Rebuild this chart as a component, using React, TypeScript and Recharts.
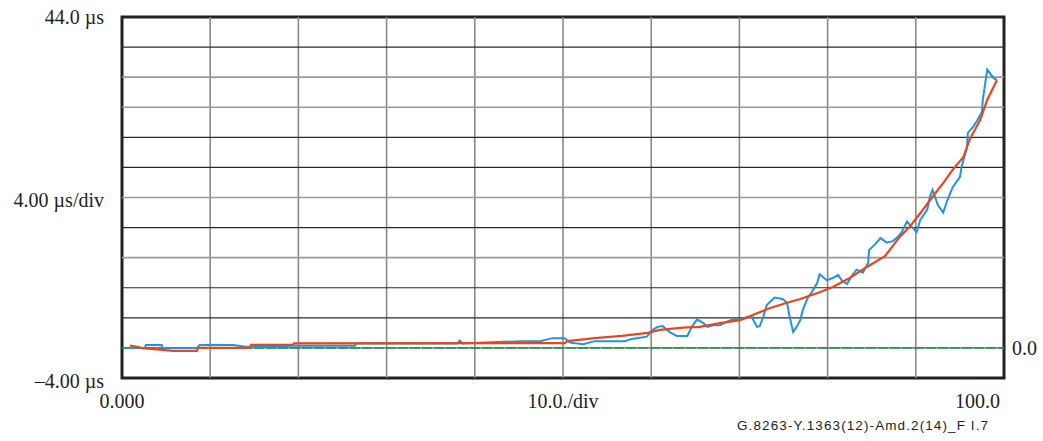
import { LineChart, Line, XAxis, YAxis, ReferenceLine, ReferenceArea } from "recharts";

// time axis (10 units per division) and offset axis (4 µs per division)
const xTicks = [0, 50, 100];
const xTickLabels = ["0.000", "10.0./div", "100.0"];
const yTicks = [-4, 20, 44];
const yTickLabels = ["\u20134.00 \u00b5s", "4.00 \u00b5s/div", "44.0 \u00b5s"];
const zeroLabel = "0.0";
const gridX = [10, 20, 30, 40, 50, 60, 70, 80, 90];
const gridY = [4, 8, 12, 16, 20, 24, 28, 32, 36, 40];
const gridYDark = [true, true, false, true, false, true, true, false, false, true];

// measured (noisy) trace
const measuredX = [
  0.9, 2.6, 2.7, 3.5, 4.5, 4.6, 5.8, 8.5, 8.8, 10.5, 11.5, 12.6, 14.5, 19.4, 26.4, 26.6, 38.0, 38.3, 38.6,
  45.4, 47.4, 48.8, 50.2, 50.8, 52.3, 53.6, 57.0, 57.8, 59.5, 60.2, 60.7, 61.3, 62.1, 62.9, 64.1, 64.6,
  65.2, 65.9, 66.4, 67.0, 67.8, 68.6, 69.3, 70.1, 70.9, 71.4, 72.0, 72.3, 72.7, 73.1, 74.0, 74.9, 75.4,
  75.7, 76.1, 76.5, 76.9, 77.2, 77.8, 78.2, 78.8, 79.1, 79.9, 80.6, 81.2, 81.6, 82.2, 82.8, 83.3, 84.0,
  84.6, 84.7, 85.4, 86.0, 86.7, 87.4, 88.0, 88.4, 89.0, 89.7, 90.1, 90.5, 91.3, 91.6, 91.9, 92.5, 93.1,
  93.6, 94.2, 95.0, 95.2, 95.8, 95.9, 96.5, 97.0, 97.5, 97.6, 98.1, 98.8, 99.2,
];
const measuredY = [
  0.0, 0.0, 0.4, 0.4, 0.4, 0.0, 0.0, 0.0, 0.4, 0.4, 0.4, 0.4, 0.1, 0.3, 0.3, 0.6, 0.6, 1.0, 0.6,
  0.9, 0.9, 1.3, 1.3, 0.7, 0.5, 0.9, 0.9, 1.2, 1.5, 2.4, 2.8, 2.9, 2.1, 1.6, 1.6, 2.8,
  3.8, 3.3, 2.8, 3.0, 3.0, 3.5, 3.8, 3.8, 4.1, 4.1, 2.8, 2.9, 4.1, 5.7, 6.7, 6.5, 6.0,
  4.1, 2.1, 2.8, 3.7, 5.1, 6.8, 7.4, 8.6, 9.8, 9.0, 9.3, 9.7, 9.0, 8.5, 9.7, 10.4, 10.0,
  11.3, 13.0, 13.8, 14.6, 14.0, 14.2, 14.8, 15.4, 16.8, 15.9, 15.4, 17.0, 18.4, 20.1, 21.0, 19.0, 18.0,
  19.7, 21.4, 22.7, 24.1, 26.7, 28.6, 29.4, 30.3, 31.4, 33.0, 37.0, 35.9, 35.6,
];

// smoothed trace
const smoothX = [
  0.9, 2.0, 2.1, 5.8, 8.5, 8.6, 14.5, 14.6, 19.4, 19.5, 50.2, 50.5, 53.6, 56.7, 59.6, 61.0, 63.6, 65.5,
  67.8, 70.1, 72.0, 73.5, 75.4, 76.9, 79.1, 80.6, 82.5, 84.5, 86.5, 88.2, 89.3, 90.5, 91.9, 93.1, 94.2,
  95.4, 96.1, 97.3, 98.1, 99.2,
];
const smoothY = [
  0.3, 0.1, 0.0, -0.4, -0.4, 0.0, 0.0, 0.4, 0.4, 0.6, 0.65, 0.9, 1.3, 1.6, 2.0, 2.4, 2.7, 2.8,
  3.3, 3.7, 4.6, 5.3, 6.0, 6.5, 7.4, 8.1, 9.3, 10.8, 12.2, 14.8, 16.1, 17.9, 20.1, 21.9, 23.7,
  25.4, 27.7, 30.3, 33.0, 35.6,
];

const measured = measuredX.map((x, i) => ({ x, y: measuredY[i] }));
const smooth = smoothX.map((x, i) => ({ x, y: smoothY[i] }));

const serif = "'Liberation Serif', 'Times New Roman', serif";
const ink = "#231f20";

const XTick = (props: any) => {
  const i = xTicks.indexOf(props.payload.value);
  const anchor = i === xTicks.length - 1 ? "end" : "middle";
  const dx = i === xTicks.length - 1 ? -4 : 0;
  return (
    <text x={props.x + dx} y={props.y + 22} textAnchor={anchor} fontFamily={serif} fontSize={20} fill={ink}>
      {xTickLabels[i]}
    </text>
  );
};

const YTick = (props: any) => {
  const i = yTicks.indexOf(props.payload.value);
  const dy = i === 0 ? 3 : i === 2 ? 0 : 2;
  return (
    <text x={104} y={props.y + dy} textAnchor="end" dominantBaseline="central" fontFamily={serif} fontSize={20} fill={ink}>
      {yTickLabels[i]}
    </text>
  );
};

const ZeroLabel = (props: any) => {
  const vb = props.viewBox || {};
  return (
    <text
      x={vb.x + vb.width + 8}
      y={vb.y}
      textAnchor="start"
      dominantBaseline="central"
      fontFamily={serif}
      fontSize={20}
      fill={ink}
    >
      {zeroLabel}
    </text>
  );
};

export default function App() {
  return (
    <div style={{ position: "absolute", left: 0, top: 0, width: 1043, height: 441, background: "#fff" }}>
      <LineChart width={1043} height={441} margin={{ top: 17, right: 39, bottom: 0, left: 0 }}>
        <XAxis
          type="number"
          dataKey="x"
          domain={[0, 100]}
          ticks={xTicks}
          height={63}
          axisLine={false}
          tickLine={false}
          tick={<XTick />}
          interval={0}
          allowDataOverflow
        />
        <YAxis
          type="number"
          domain={[-4, 44]}
          ticks={yTicks}
          width={122}
          axisLine={false}
          tickLine={false}
          tick={<YTick />}
          interval={0}
        />
        {gridX.map((v) => (
          <ReferenceLine key={"vx" + v} x={v} stroke="#8a8a8a" strokeWidth={1.6} />
        ))}
        {gridY.map((v, i) => (
          <ReferenceLine
            key={"hy" + v}
            y={v}
            stroke={gridYDark[i] ? "#2a2a2a" : "#9a9a9a"}
            strokeWidth={gridYDark[i] ? 1.2 : 1.6}
          />
        ))}
        <ReferenceLine y={0} stroke="#333" strokeWidth={1} label={<ZeroLabel />} />
        <ReferenceLine y={0} stroke="#1f9a4e" strokeWidth={1.6} strokeDasharray="10 2" />
        <Line
          data={measured}
          dataKey="y"
          type="linear"
          stroke="#1f94e0"
          strokeWidth={2}
          dot={false}
          isAnimationActive={false}
        />
        <Line
          data={smooth}
          dataKey="y"
          type="linear"
          stroke="#e8461e"
          strokeWidth={2.2}
          dot={false}
          isAnimationActive={false}
        />
        <ReferenceArea
          x1={0}
          x2={100}
          y1={-4}
          y2={44}
          fill="none"
          stroke="#222"
          strokeWidth={3}
          ifOverflow="visible"
        />
      </LineChart>
      <div
        style={{
          position: "absolute",
          left: 737,
          top: 418,
          fontFamily: "'Liberation Sans', Arial, sans-serif",
          fontSize: 13.5,
          letterSpacing: 1.1,
          color: ink,
          whiteSpace: "nowrap",
        }}
      >
        G.8263-Y.1363(12)-Amd.2(14)_F I.7
      </div>
    </div>
  );
}
